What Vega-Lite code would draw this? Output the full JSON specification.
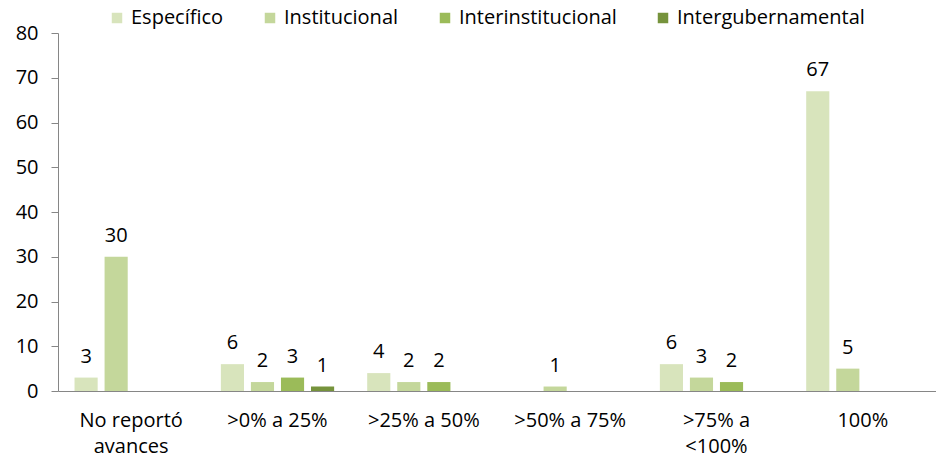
{
  "$schema": "https://vega.github.io/schema/vega-lite/v6.json",
  "width": 878,
  "height": 358,
  "autosize": {"type": "none"},
  "padding": {"left": 58, "top": 33, "right": 0, "bottom": 68},
  "background": "white",
  "config": {
    "view": {"stroke": null},
    "font": "Open Sans",
    "axis": {"labelFont": "Open Sans", "labelFontSize": 20, "labelColor": "#000000", "domainColor": "#868686", "tickColor": "#868686", "grid": false, "title": null},
    "legend": {"labelFont": "Open Sans", "labelFontSize": 20, "labelColor": "#000000", "labelLimit": 400}
  },
  "data": {
    "values": [
      {"cat": "No reportó avances", "tipo": "Específico", "v": 3},
      {"cat": "No reportó avances", "tipo": "Institucional", "v": 30},
      {"cat": ">0% a 25%", "tipo": "Específico", "v": 6},
      {"cat": ">0% a 25%", "tipo": "Institucional", "v": 2},
      {"cat": ">0% a 25%", "tipo": "Interinstitucional", "v": 3},
      {"cat": ">0% a 25%", "tipo": "Intergubernamental", "v": 1},
      {"cat": ">25% a 50%", "tipo": "Específico", "v": 4},
      {"cat": ">25% a 50%", "tipo": "Institucional", "v": 2},
      {"cat": ">25% a 50%", "tipo": "Interinstitucional", "v": 2},
      {"cat": ">50% a 75%", "tipo": "Institucional", "v": 1},
      {"cat": ">75% a <100%", "tipo": "Específico", "v": 6},
      {"cat": ">75% a <100%", "tipo": "Institucional", "v": 3},
      {"cat": ">75% a <100%", "tipo": "Interinstitucional", "v": 2},
      {"cat": "100%", "tipo": "Específico", "v": 67},
      {"cat": "100%", "tipo": "Institucional", "v": 5}
    ]
  },
  "encoding": {
    "x": {
      "field": "cat", "type": "nominal",
      "sort": ["No reportó avances", ">0% a 25%", ">25% a 50%", ">50% a 75%", ">75% a <100%", "100%"],
      "scale": {"paddingInner": 0, "paddingOuter": 0},
      "axis": {"labelAngle": 0, "ticks": false, "labelPadding": 19, "labelLineHeight": 26,
        "labelExpr": "datum.value == 'No reportó avances' ? ['No reportó', 'avances'] : datum.value == '>75% a <100%' ? ['>75% a', '<100%'] : datum.value"}
    },
    "xOffset": {
      "field": "tipo", "type": "nominal",
      "scale": {"domain": ["Específico", "Institucional", "Interinstitucional", "Intergubernamental"], "paddingInner": 0.23, "paddingOuter": 0.55}
    },
    "y": {
      "field": "v", "type": "quantitative",
      "scale": {"domain": [0, 80], "nice": false},
      "axis": {"values": [0, 10, 20, 30, 40, 50, 60, 70, 80], "tickSize": 7, "labelPadding": 13}
    }
  },
  "layer": [
    {
      "mark": {"type": "bar"},
      "encoding": {
        "color": {
          "field": "tipo", "type": "nominal",
          "scale": {"domain": ["Específico", "Institucional", "Interinstitucional", "Intergubernamental"], "range": ["#d8e4bc", "#c4d79b", "#9bbb59", "#76933c"]},
          "legend": {"title": null, "orient": "none", "direction": "horizontal", "legendX": 49, "legendY": -25, "symbolType": "square", "symbolSize": 110, "symbolStrokeWidth": 0, "columnPadding": 36, "labelOffset": 4}
        }
      }
    },
    {
      "mark": {"type": "text", "baseline": "bottom", "dy": -11, "fontSize": 20, "font": "Open Sans", "color": "#000000"},
      "encoding": {"text": {"field": "v", "type": "quantitative"}}
    }
  ]
}
